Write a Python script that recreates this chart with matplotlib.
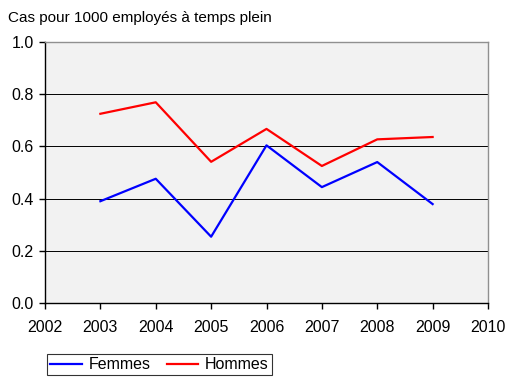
import matplotlib.pyplot as plt
from matplotlib.ticker import MultipleLocator

plt.rcParams['font.family'] = ['Liberation Sans', 'DejaVu Sans']

years = [2003, 2004, 2005, 2006, 2007, 2008, 2009]
femmes = [0.39, 0.476, 0.254, 0.604, 0.444, 0.54, 0.379]
hommes = [0.725, 0.769, 0.541, 0.667, 0.525, 0.627, 0.636]

fig = plt.figure(figsize=(5.09, 3.77), dpi=100)
ax = fig.add_axes([45 / 509, 74 / 377, 443 / 509, 261 / 377])
ax.set_facecolor('#f2f2f2')

ax.plot(years, femmes, color='#0000ff', lw=1.6, label='Femmes')
ax.plot(years, hommes, color='#ff0000', lw=1.6, label='Hommes')

ax.set_xlim(2002, 2010)
ax.set_ylim(0, 1.0)
ax.xaxis.set_major_locator(MultipleLocator(1))
ax.yaxis.set_major_locator(MultipleLocator(0.2))
ax.yaxis.set_major_formatter(lambda v, p: f'{v:.1f}')
ax.grid(axis='y', color='black', lw=0.7)
ax.set_axisbelow(True)

for side in ['left', 'bottom']:
    ax.spines[side].set_color('black')
    ax.spines[side].set_linewidth(1.0)
for side in ['top', 'right']:
    ax.spines[side].set_color('#909090')
    ax.spines[side].set_linewidth(1.0)

ax.tick_params(axis='x', length=4, width=1, pad=8, labelsize=11.5)
ax.tick_params(axis='y', length=4, width=1, pad=4, labelsize=11.5)

fig.text(8 / 509, 1 - 18 / 377, 'Cas pour 1000 employés à temps plein',
         fontsize=11, va='center', ha='left')

leg = fig.legend(loc='upper left', bbox_to_anchor=(47 / 509, 1 - 354 / 377),
                 ncol=2, frameon=True, fancybox=False, edgecolor='black',
                 fontsize=11.5, handlelength=2.0, columnspacing=1.0,
                 borderpad=0.2, handletextpad=0.4, borderaxespad=0)
leg.get_frame().set_linewidth(0.8)

fig.savefig('out.png', dpi=100)
